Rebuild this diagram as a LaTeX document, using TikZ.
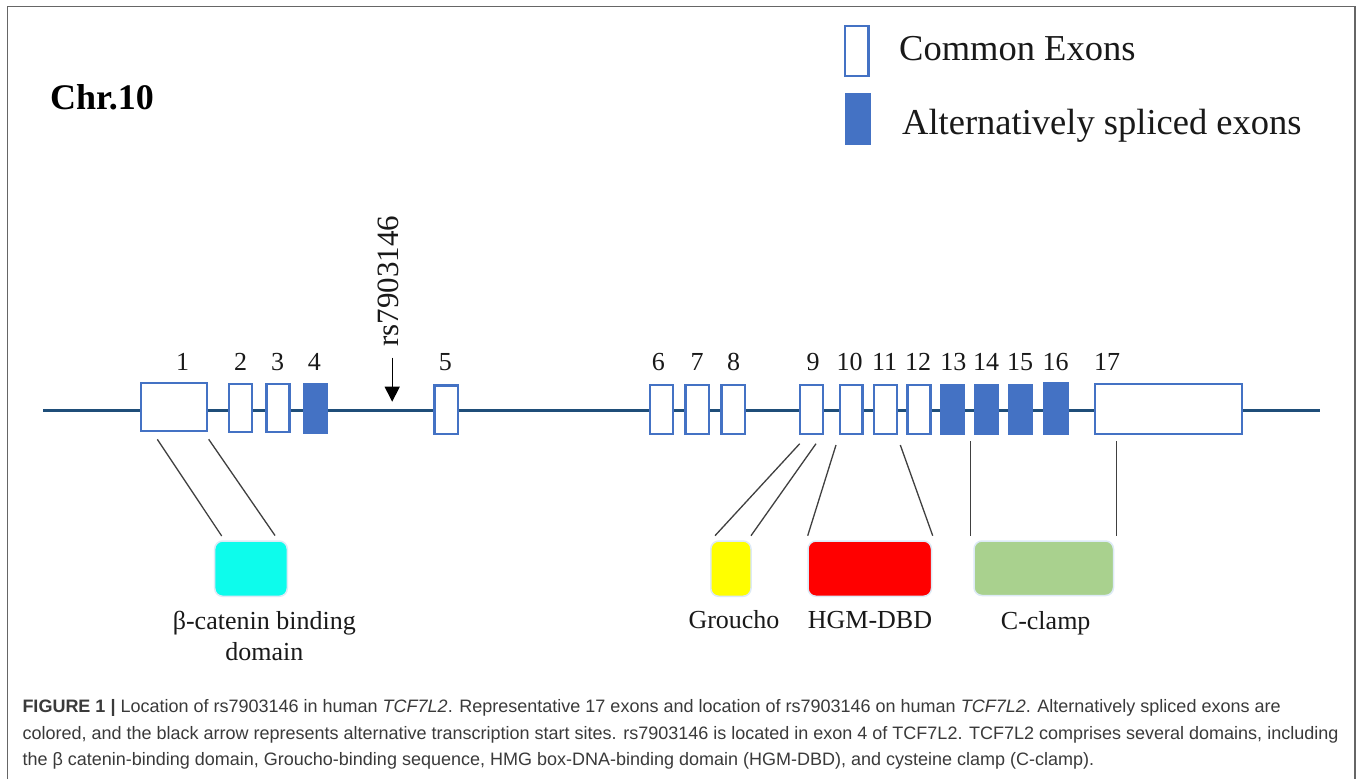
\documentclass[tikz,border=0pt]{standalone}
\usepackage{fontspec}
\setmainfont{Liberation Serif}
\newfontfamily\capfont{Liberation Sans}
\usetikzlibrary{arrows.meta}
\definecolor{exonblue}{HTML}{4472C4}
\definecolor{backbone}{HTML}{1F4E79}
\definecolor{domainedge}{HTML}{DDEAF6}
\definecolor{framegray}{HTML}{666666}
\definecolor{captext}{HTML}{3A3A3A}
\definecolor{domcyan}{HTML}{0DFCEC}
\definecolor{domyellow}{HTML}{FFFF00}
\definecolor{domred}{HTML}{FF0000}
\definecolor{domgreen}{HTML}{A9D18E}
\tikzset{
  boxbase/.style={rectangle,inner sep=0pt,outer sep=0pt,line width=2.3pt},
  common/.style={boxbase,draw=exonblue,fill=white},
  spliced/.style={boxbase,draw=exonblue,fill=exonblue},
  domainbox/.style={rectangle,rounded corners=8pt,inner sep=0pt,outer sep=0pt,draw=domainedge,line width=1.5pt},
  num/.style={anchor=base,inner sep=0pt,text=black!90,font=\fontsize{26}{30}\selectfont},
  lab/.style={anchor=base,inner sep=0pt,text=black!90,font=\fontsize{26}{30}\selectfont},
  leg/.style={anchor=base west,inner sep=0pt,text=black!90,font=\fontsize{36.5}{40}\selectfont},
  captionline/.style={anchor=base west,inner sep=0pt,text=captext,font=\capfont\fontsize{18}{22}\selectfont},
  link/.style={draw=black!75,line width=1.3pt},
  dna/.style={draw=backbone,line width=3.4pt},
}
% name, x1, y1, x2, y2, style (measured outer edges)
\newcommand{\boxat}[6]{%
  \pgfmathsetmacro{\bxc}{(#2+#4)/2}\pgfmathsetmacro{\byc}{(#3+#5)/2}%
  \pgfmathsetmacro{\bxw}{#4-#2-2}\pgfmathsetmacro{\byh}{#5-#3-2}%
  \node[#6,minimum width=\bxw pt,minimum height=\byh pt] (#1) at (\bxc,\byc) {};}
\begin{document}
\begin{tikzpicture}[x=1pt,y=-1pt]
\useasboundingbox (0,0) rectangle (1357,779);
\fill[white] (0,0) rectangle (1357,779);
\coordinate (fa) at (7.5,779);
\coordinate (fb) at (7.5,6.5);
\coordinate (fc) at (1355,6.5);
\coordinate (fd) at (1355,779);
\draw[framegray,line width=1.3pt] (fa) -- (fb) -- (fc) -- (fd);

\coordinate (dnaL) at (43,410.3);
\coordinate (dnaR) at (1320,410.3);
\draw[dna] (dnaL) -- (dnaR);

\boxat{e1}{140}{382}{208}{432}{common}
\boxat{e2}{228}{383}{253}{433}{common}
\boxat{e3}{265.5}{383}{290.5}{433}{common}
\boxat{e4}{302.7}{383}{327.5}{433.5}{spliced}
\boxat{e5}{433.5}{384.5}{459}{435}{common}
\boxat{e6}{649}{384.3}{674}{435}{common}
\boxat{e7}{684.5}{384.3}{710}{435}{common}
\boxat{e8}{720.5}{384.3}{746.3}{435}{common}
\boxat{e9}{798.7}{384.3}{824.3}{435}{common}
\boxat{e10}{839}{384.3}{863.5}{435}{common}
\boxat{e11}{872.7}{384.3}{898.3}{435}{common}
\boxat{e12}{906.5}{384.3}{931.5}{435}{common}
\boxat{e13}{940.3}{384}{965}{435}{spliced}
\boxat{e14}{974}{384}{999.3}{435}{spliced}
\boxat{e15}{1008}{384}{1033}{435}{spliced}
\boxat{e16}{1043}{382.3}{1069.3}{435}{spliced}
\boxat{e17}{1093.7}{383.2}{1243}{434.7}{common}

\node[num] (n1) at (182.7,370.5) {1};
\node[num] (n2) at (240.7,370.5) {2};
\node[num] (n3) at (277.7,370.5) {3};
\node[num] (n4) at (314.3,370.5) {4};
\node[num] (n5) at (445.3,370.5) {5};
\node[num] (n6) at (658.3,370) {6};
\node[num] (n7) at (697,370) {7};
\node[num] (n8) at (733.7,370) {8};
\node[num] (n9) at (813,370) {9};
\node[num] (n10) at (849.7,370) {10};
\node[num] (n11) at (884.7,370) {11};
\node[num] (n12) at (918,370) {12};
\node[num] (n13) at (953.3,370) {13};
\node[num] (n14) at (986,370) {14};
\node[num] (n15) at (1020,370) {15};
\node[num] (n16) at (1055.7,370) {16};
\node[num] (n17) at (1107,370) {17};

\node[anchor=base,inner sep=0pt,rotate=90,text=black!90,font=\fontsize{31}{34}\selectfont] (rs) at (398,281) {rs7903146};
\coordinate (arT) at (392.2,357.5);
\coordinate (arH) at (392.2,401.7);
\draw[black,line width=1.3pt,-{Triangle[length=15pt,width=15pt]}] (arT) -- (arH);

\boxat{dcat}{213.7}{540}{288.3}{597.3}{domainbox,fill=domcyan}
\boxat{dgro}{709.8}{540}{752}{597.3}{domainbox,fill=domyellow}
\boxat{dhmg}{807}{540}{932.5}{597.3}{domainbox,fill=domred}
\boxat{dclp}{973}{540}{1114.5}{596.5}{domainbox,fill=domgreen}

\coordinate (a1) at (157.3,439.3); \coordinate (b1) at (221.7,536);
\coordinate (a2) at (208.7,439.3); \coordinate (b2) at (275,535.5);
\coordinate (a3) at (799.7,443.7); \coordinate (b3) at (715,535.7);
\coordinate (a4) at (816,443.7);   \coordinate (b4) at (751,535.7);
\coordinate (a5) at (836,445);     \coordinate (b5) at (807.7,535.7);
\coordinate (a6) at (900.3,445);   \coordinate (b6) at (932.7,535.7);
\coordinate (a7) at (970.7,441.3); \coordinate (b7) at (970.7,535.7);
\coordinate (a8) at (1116.3,441.3);\coordinate (b8) at (1116.3,535.7);
\draw[link] (a1) -- (b1);
\draw[link] (a2) -- (b2);
\draw[link] (a3) -- (b3);
\draw[link] (a4) -- (b4);
\draw[link] (a5) -- (b5);
\draw[link] (a6) -- (b6);
\draw[link] (a7) -- (b7);
\draw[link] (a8) -- (b8);

\node[lab] (lcat) at (264.3,629) {β-catenin binding};
\node[lab] (lcat2) at (264.3,660.5) {domain};
\node[lab] (lgro) at (734,628.3) {Groucho};
\node[lab] (lhmg) at (870,628) {HGM-DBD};
\node[lab] (lclp) at (1045.7,629) {C-clamp};

\node[anchor=base west,inner sep=0pt,text=black,font=\fontsize{36}{38}\selectfont\bfseries] (chr) at (50,109) {Chr.10};

\boxat{lega}{844}{25}{869.5}{77}{common}
\boxat{legb}{845}{93}{871}{145}{spliced}
\node[leg] (lta) at (899,60) {Common Exons};
\node[leg] (ltb) at (902,134) {Alternatively spliced exons};

\node[captionline] (c1) at (22.3,712.5) {{\bfseries FIGURE 1 |} Location of rs7903146 in human \emph{TCF7L2}. Representative 17 exons and location of rs7903146 on human \emph{TCF7L2}. Alternatively spliced exons are};
\node[captionline] (c2) at (22.3,739) {colored, and the black arrow represents alternative transcription start sites. rs7903146 is located in exon 4 of TCF7L2. TCF7L2 comprises several domains, including};
\node[captionline] (c3) at (22.3,765) {the β catenin-binding domain, Groucho-binding sequence, HMG box-DNA-binding domain (HGM-DBD), and cysteine clamp (C-clamp).};
\end{tikzpicture}
\end{document}
